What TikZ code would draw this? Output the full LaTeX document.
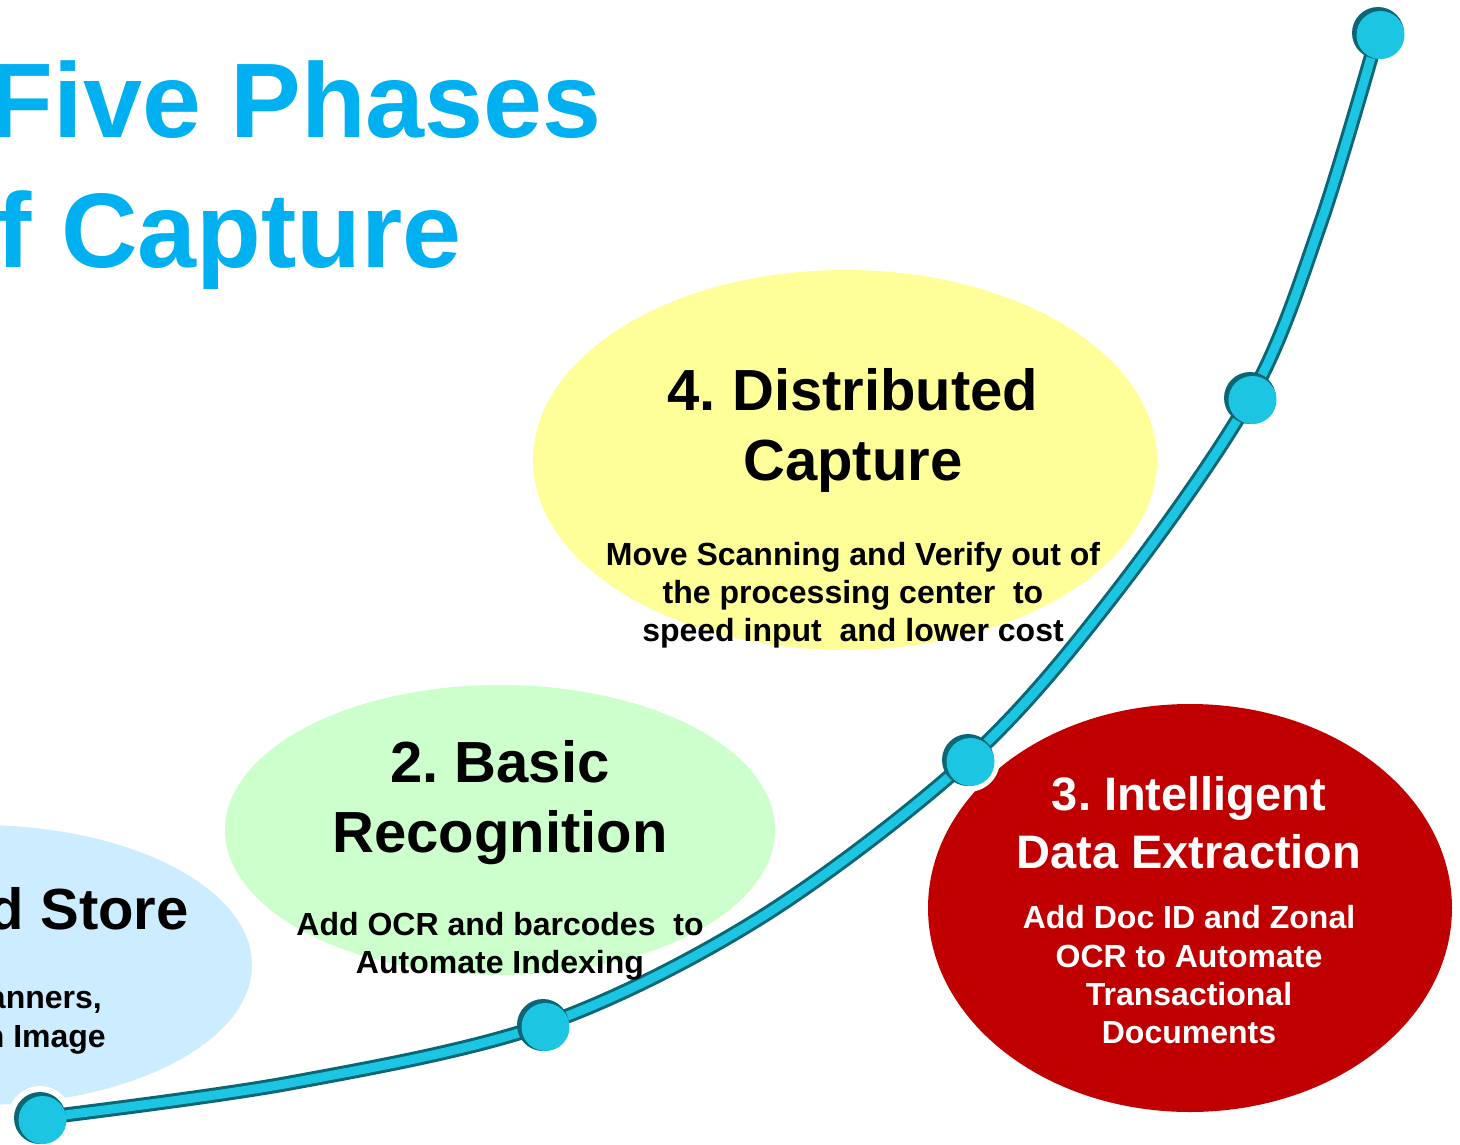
\documentclass[tikz,border=0pt]{standalone}
\usepackage{fontspec}
\setmainfont{Liberation Sans}
\usetikzlibrary{shapes.geometric}
\frenchspacing
\definecolor{titleblue}{HTML}{00B0F0}
\definecolor{bluefill}{HTML}{CCECFF}
\definecolor{greenfill}{HTML}{CCFFCC}
\definecolor{yellowfill}{HTML}{FFFF99}
\definecolor{redfill}{HTML}{C00000}
\definecolor{cyanline}{HTML}{1CC6E3}
\definecolor{darkline}{HTML}{0B6676}
\tikzset{
  bubble/.style={ellipse, draw=none, inner sep=0pt},
  titletxt/.style={inner sep=0pt, text=titleblue, font=\fontsize{106}{106}\selectfont\bfseries},
  headtxt/.style={inner sep=0pt, anchor=base, font=\fontsize{58}{58}\selectfont\bfseries},
  redhead/.style={inner sep=0pt, anchor=base, text=white, font=\fontsize{47}{47}\selectfont\bfseries},
  bodytxt/.style={inner sep=0pt, anchor=base, font=\fontsize{32}{32}\selectfont\bfseries},
  redbody/.style={bodytxt, text=white},
}
\begin{document}
\begin{tikzpicture}[x=1pt,y=-1pt]
\useasboundingbox (0,0) rectangle (1460,1145);
\clip (0,0) rectangle (1460,1145);
\fill[white] (0,0) rectangle (1460,1145);

% bubbles
\node[bubble, fill=bluefill, minimum width=548pt, minimum height=280pt] (e1) at (-22,965) {};
\node[bubble, fill=greenfill, minimum width=550pt, minimum height=290pt] (e2) at (500,830) {};
\node[bubble, fill=yellowfill, minimum width=624pt, minimum height=380pt] (e4) at (845,460) {};
\node[bubble, fill=redfill, minimum width=524pt, minimum height=408pt] (e3) at (1190,908) {};

% curve points
\coordinate (b0) at (40,1118);
\coordinate (c01) at (290,1083);
\coordinate (b1) at (543,1025);
\coordinate (c12) at (760,918);
\coordinate (b2) at (968,760);
\coordinate (c23) at (1110,600);
\coordinate (b3) at (1250,398);
\coordinate (c34) at (1320,225);
\coordinate (b4) at (1378,33);

% white halo
\draw[white, line width=30pt, line cap=round] plot[smooth, tension=0.55] coordinates {(b0) (c01) (b1) (c12) (b2) (c23) (b3) (c34) (b4)};
\foreach \p in {b0,b1,b2,b3,b4} \fill[white] (\p) circle[radius=32pt];
% dark body
\draw[darkline, line width=15pt, line cap=round] plot[smooth, tension=0.55] coordinates {(b0) (c01) (b1) (c12) (b2) (c23) (b3) (c34) (b4)};
% light body
\begin{scope}[shift={(2,2)}]
\draw[cyanline, line width=9pt, line cap=round] plot[smooth, tension=0.55] coordinates {(b0) (c01) (b1) (c12) (b2) (c23) (b3) (c34) (b4)};
\end{scope}
% balls
\foreach \p in {b0,b1,b2,b3,b4} {
  \fill[darkline] (\p) circle[radius=26pt];
  \fill[cyanline] ([shift={(2.5,2)}]\p) circle[radius=24pt];
}

% title
\node[titletxt, anchor=base east] (t1) at (602,138) {Five Phases};
\node[titletxt, anchor=base east] (t2) at (462,267) {f Capture};

% phase 1 (cut off at the left edge)
\node[headtxt, anchor=base east] (p1h) at (189,929) {d Store};
\node[bodytxt, anchor=base east] (p1a) at (102,1008) {anners,};
\node[bodytxt, anchor=base east] (p1b) at (106,1047) {n Image};

% phase 2
\node[headtxt] (p2h1) at (500,782) {2. Basic};
\node[headtxt] (p2h2) at (500,852) {Recognition};
\node[bodytxt] (p2a) at (500,935) {Add OCR and barcodes\ \ to};
\node[bodytxt] (p2b) at (500,973) {Automate Indexing};

% phase 4
\node[headtxt] (p4h1) at (853,410) {4. Distributed};
\node[headtxt] (p4h2) at (853,480) {Capture};
\node[bodytxt] (p4a) at (853,565) {Move Scanning and Verify out of};
\node[bodytxt] (p4b) at (853,603) {the processing center\ \ to};
\node[bodytxt] (p4c) at (853,641) {speed input\ \ and lower cost};

% phase 3
\node[redhead] (p3h1) at (1189,810) {3. Intelligent};
\node[redhead] (p3h2) at (1189,868) {Data Extraction};
\node[redbody] (p3a) at (1189,928) {Add Doc ID and Zonal};
\node[redbody] (p3b) at (1189,967) {OCR to Automate};
\node[redbody] (p3c) at (1189,1005) {Transactional};
\node[redbody] (p3d) at (1189,1043) {Documents};
\end{tikzpicture}
\end{document}
